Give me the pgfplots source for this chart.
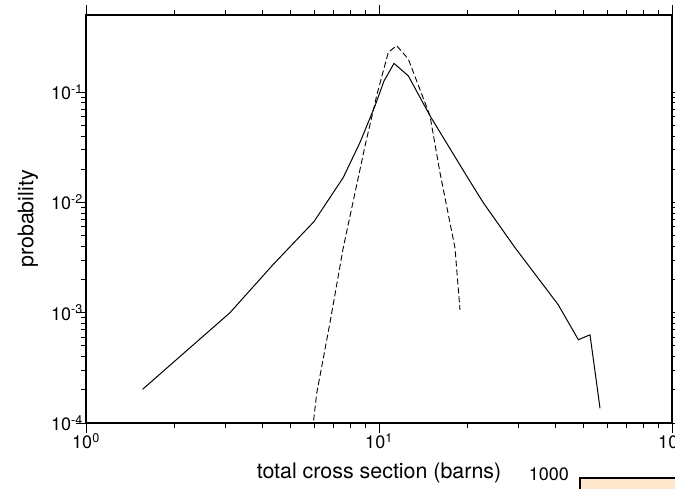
\documentclass[border=0pt]{standalone}
\usepackage{fontspec}
\setmainfont{TeX Gyre Heros}
\usepackage{pgfplots}
\pgfplotsset{compat=1.18}
\definecolor{inset}{RGB}{255,231,204}
\begin{document}
\begin{tikzpicture}[x=1pt,y=1pt]
\begin{axis}[
  at={(86pt,65pt)}, anchor=south west,
  scale only axis, width=586pt, height=408pt,
  xmode=log, ymode=log,
  xmin=1, xmax=100, ymin=1e-4, ymax=0.5,
  axis line style={line width=2pt},
  tick style={line width=0.9pt, black},
  tick align=outside,
  major tick length=10pt, minor tick length=5pt,
  xtick={1,10,100}, xticklabels={10\textsuperscript{0},10\textsuperscript{1},10\textsuperscript{2}},
  ytick={1e-4,1e-3,1e-2,1e-1}, yticklabels={10\textsuperscript{-4},10\textsuperscript{-3},10\textsuperscript{-2},10\textsuperscript{-1}},
  xtick pos=both, ytick pos=both,
  xticklabel pos=lower, yticklabel pos=left,
  ticklabel style={font=\fontsize{18}{21}\selectfont},
  xticklabel style={inner sep=0.5pt},
  yticklabel style={inner sep=1pt, xshift=8pt},
  xlabel={total cross section (barns)},
  ylabel={probability},
  label style={font=\fontsize{21.4}{25}\selectfont},
  xlabel style={at={(axis description cs:0.5,-0.1225)}, anchor=center},
  ylabel style={at={(axis description cs:-0.099,0.5)}, anchor=center},
  clip=true,
]
\addplot[black, line width=1pt] coordinates {
(1.56,2.02e-4) (3.10,1.0e-3) (4.35,2.73e-3) (6.0,6.7e-3) (7.55,0.0168)
(8.61,0.0349) (9.69,0.075) (10.4,0.126) (11.25,0.182) (12.59,0.1405)
(14.93,0.061) (19.92,0.01735) (22.7,0.00993) (29.1,0.0039) (40.9,0.00118)
(47.9,5.69e-4) (52.5,6.3e-4) (56.8,1.36e-4)
};
\addplot[black, line width=0.9pt, dash pattern=on 6pt off 3pt] coordinates {
(5.79,5e-5) (6.13,1.86e-4) (6.80,8.05e-4) (7.55,3.87e-3) (8.96,0.0325)
(9.85,0.096) (10.76,0.2295) (11.49,0.2635) (12.59,0.1995) (14.93,0.061)
(16.15,0.0186) (18.17,3.87e-3) (18.9,1.06e-3)
};
\end{axis}
\begin{axis}[
  at={(580pt,10pt)}, anchor=north west,
  scale only axis, width=200pt, height=200pt,
  xmin=0, xmax=10, ymin=0, ymax=1000,
  axis line style={line width=2pt},
  axis background/.style={fill=inset},
  xtick=\empty, ytick={1000}, yticklabels={1000},
  major tick length=0pt,
  ticklabel style={font=\fontsize{18}{21}\selectfont},
  yticklabel style={inner sep=2pt, xshift=-9pt, yshift=4pt},
]
\end{axis}
\pgfresetboundingbox
\useasboundingbox (0,0) rectangle (675pt,488pt);
\end{tikzpicture}
\end{document}
